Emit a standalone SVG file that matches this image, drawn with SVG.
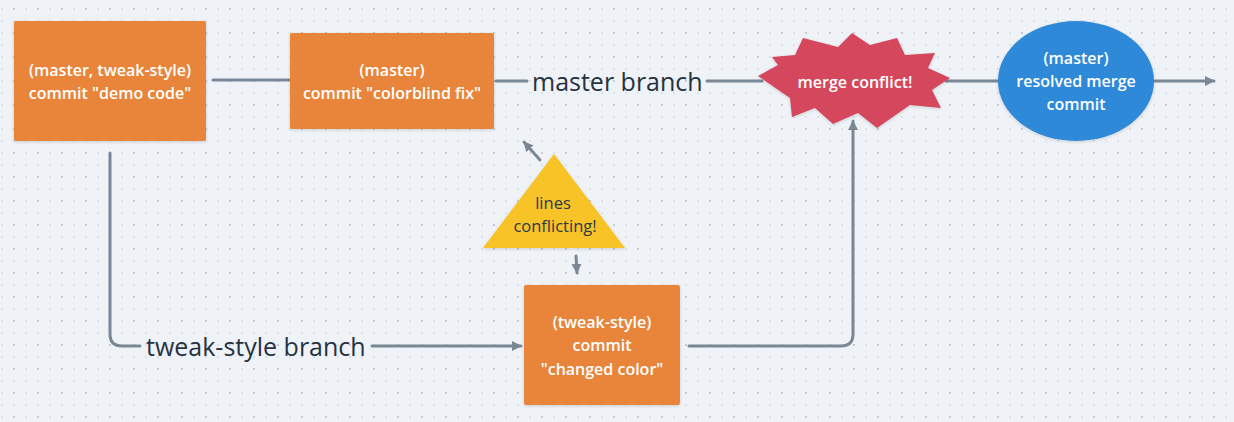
<svg xmlns="http://www.w3.org/2000/svg" width="1234" height="422" viewBox="0 0 1234 422">
  <defs>
    <pattern id="dots" x="0" y="0" width="24" height="24" patternUnits="userSpaceOnUse">
      <rect x="1" y="8" width="2" height="2" fill="#DCE1E7"/>
      <rect x="13" y="8" width="2" height="2" fill="#C5CBD4"/>
      <rect x="1" y="20" width="2" height="2" fill="#DCE1E7"/>
      <rect x="13" y="20" width="2" height="2" fill="#DCE1E7"/>
    </pattern>
    <filter id="sh" x="-10%" y="-10%" width="120%" height="130%">
      <feDropShadow dx="0" dy="1" stdDeviation="1.5" flood-color="#1c2b3a" flood-opacity="0.18"/>
    </filter>
    <marker id="arr" viewBox="0 0 10 10" refX="9" refY="5" markerWidth="10" markerHeight="11" markerUnits="userSpaceOnUse" orient="auto">
      <path d="M0,0 L10,5 L0,10 z" fill="#7A8896"/>
    </marker>
  </defs>
  <style>
    .conn { fill: none; stroke: #7A8896; stroke-width: 3; stroke-linecap: round; stroke-linejoin: round; }
    .box { fill: #E8853A; filter: url(#sh); }
    .wt { font-family: "Open Sans", "Noto Sans", sans-serif; font-weight: 600; font-size: 16px; fill: #FFFFFF; text-anchor: middle; dominant-baseline: central; }
    .dk { font-family: "Open Sans", "Noto Sans", sans-serif; font-size: 16.5px; fill: #2B3A4A; text-anchor: middle; dominant-baseline: central; }
    .lbl { font-family: "Open Sans", "Noto Sans", sans-serif; font-size: 25px; fill: #253242; dominant-baseline: central; }
  </style>
  <rect width="1234" height="422" fill="#EFF3F7"/>
  <rect width="1234" height="422" fill="url(#dots)"/>

  <g id="connectors">
    <path class="conn" d="M213 80 H289"/>
    <path class="conn" d="M496 81 H527"/>
    <text class="lbl" x="532" y="81">master branch</text>
    <path class="conn" d="M707 81 H762"/>
    <path class="conn" d="M946 81 H998"/>
    <path class="conn" d="M1155 81 H1214" marker-end="url(#arr)"/>
    <path class="conn" d="M110 153 V334 Q110 346 122 346 H140"/>
    <text class="lbl" x="146" y="346">tweak-style branch</text>
    <path class="conn" d="M372 346 H521" marker-end="url(#arr)"/>
    <path class="conn" d="M689 346 H841 Q853 346 853 334 V121" marker-end="url(#arr)"/>
    <path class="conn" d="M540 160 L524 142" marker-end="url(#arr)"/>
    <path class="conn" d="M576 256 L577 273" marker-end="url(#arr)"/>
  </g>

  <g id="commit-demo">
    <rect class="box" x="14" y="21" width="192" height="120" rx="2"/>
    <text class="wt" x="110" y="70">(master, tweak-style)</text>
    <text class="wt" x="110" y="93">commit "demo code"</text>
  </g>

  <g id="commit-colorblind">
    <rect class="box" x="290" y="33" width="204" height="96" rx="2"/>
    <text class="wt" x="392" y="70">(master)</text>
    <text class="wt" x="392" y="93">commit "colorblind fix"</text>
  </g>

  <g id="merge-conflict">
    <polygon fill="#D4475C" filter="url(#sh)" points="803,38 838,47 852,33 870,45 897,38 905,55 935,53 928,68 950,78 932,90 941,108 910,105 877,128 858,113 833,124 815,108 792,117 790,98 758,76 778,65 772,57 795,55"/>
    <text class="wt" x="855" y="82">merge conflict!</text>
  </g>

  <g id="resolved-merge">
    <ellipse cx="1076" cy="81" rx="78" ry="60" fill="#2E89D8" filter="url(#sh)"/>
    <text class="wt" x="1076" y="58">(master)</text>
    <text class="wt" x="1076" y="81">resolved merge</text>
    <text class="wt" x="1076" y="104">commit</text>
  </g>

  <g id="lines-conflicting">
    <polygon points="554,154 625,248 483,248" fill="#F8C325" filter="url(#sh)"/>
    <text class="dk" x="553" y="202">lines</text>
    <text class="dk" x="555" y="225">conflicting!</text>
  </g>

  <g id="commit-changed-color">
    <rect class="box" x="524" y="285" width="156" height="120" rx="2"/>
    <text class="wt" x="602" y="322">(tweak-style)</text>
    <text class="wt" x="602" y="345">commit</text>
    <text class="wt" x="602" y="369">"changed color"</text>
  </g>
</svg>
